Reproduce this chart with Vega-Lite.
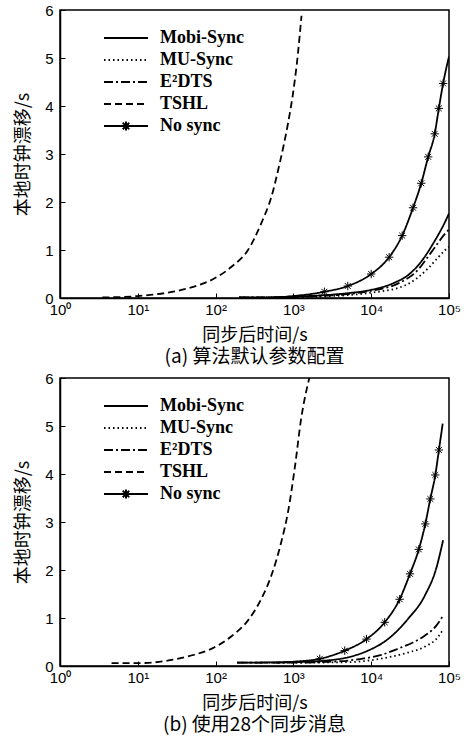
{
  "$schema": "https://vega.github.io/schema/vega-lite/v6.json",
  "padding": {"left": 13, "top": 2, "right": 4, "bottom": 0},
  "spacing": 2,
  "config": {
    "view": {"stroke": "black", "strokeWidth": 1.5},
    "axis": {
      "grid": false, "domainColor": "black", "domainWidth": 1.5,
      "tickColor": "black", "tickSize": -5, "tickWidth": 1,
      "labelColor": "black", "labelFont": "Liberation Sans", "labelFontSize": 15,
      "titleColor": "black", "titleFont": "Noto Sans CJK SC", "titleFontSize": 18, "titleFontWeight": "normal",
      "labelFlush": false
    },
    "title": {"font": "Noto Sans CJK SC", "fontSize": 19, "fontWeight": "normal", "color": "black", "orient": "bottom", "offset": 4, "anchor": "middle"}
  },
  "datasets": {
    "curves": [
      {"panel": "a", "series": "Mobi-Sync", "t": 200, "drift": 0.01},
      {"panel": "a", "series": "Mobi-Sync", "t": 500, "drift": 0.015},
      {"panel": "a", "series": "Mobi-Sync", "t": 1000, "drift": 0.03},
      {"panel": "a", "series": "Mobi-Sync", "t": 2000, "drift": 0.05},
      {"panel": "a", "series": "Mobi-Sync", "t": 5000, "drift": 0.1},
      {"panel": "a", "series": "Mobi-Sync", "t": 10000, "drift": 0.17},
      {"panel": "a", "series": "Mobi-Sync", "t": 20000, "drift": 0.32},
      {"panel": "a", "series": "Mobi-Sync", "t": 30000, "drift": 0.48},
      {"panel": "a", "series": "Mobi-Sync", "t": 44000, "drift": 0.76},
      {"panel": "a", "series": "Mobi-Sync", "t": 65000, "drift": 1.18},
      {"panel": "a", "series": "Mobi-Sync", "t": 85000, "drift": 1.52},
      {"panel": "a", "series": "Mobi-Sync", "t": 100000, "drift": 1.76},

      {"panel": "a", "series": "MU-Sync", "t": 200, "drift": 0.01},
      {"panel": "a", "series": "MU-Sync", "t": 1000, "drift": 0.02},
      {"panel": "a", "series": "MU-Sync", "t": 2000, "drift": 0.03},
      {"panel": "a", "series": "MU-Sync", "t": 5000, "drift": 0.06},
      {"panel": "a", "series": "MU-Sync", "t": 10000, "drift": 0.11},
      {"panel": "a", "series": "MU-Sync", "t": 27000, "drift": 0.26},
      {"panel": "a", "series": "MU-Sync", "t": 40000, "drift": 0.43},
      {"panel": "a", "series": "MU-Sync", "t": 54000, "drift": 0.62},
      {"panel": "a", "series": "MU-Sync", "t": 72000, "drift": 0.84},
      {"panel": "a", "series": "MU-Sync", "t": 92000, "drift": 1.02},
      {"panel": "a", "series": "MU-Sync", "t": 100000, "drift": 1.07},

      {"panel": "a", "series": "E²DTS", "t": 200, "drift": 0.01},
      {"panel": "a", "series": "E²DTS", "t": 1000, "drift": 0.02},
      {"panel": "a", "series": "E²DTS", "t": 2000, "drift": 0.04},
      {"panel": "a", "series": "E²DTS", "t": 5000, "drift": 0.08},
      {"panel": "a", "series": "E²DTS", "t": 10000, "drift": 0.15},
      {"panel": "a", "series": "E²DTS", "t": 22000, "drift": 0.3},
      {"panel": "a", "series": "E²DTS", "t": 38000, "drift": 0.55},
      {"panel": "a", "series": "E²DTS", "t": 59000, "drift": 0.95},
      {"panel": "a", "series": "E²DTS", "t": 88000, "drift": 1.33},
      {"panel": "a", "series": "E²DTS", "t": 100000, "drift": 1.43},

      {"panel": "a", "series": "TSHL", "t": 3.5, "drift": 0.01},
      {"panel": "a", "series": "TSHL", "t": 10, "drift": 0.04},
      {"panel": "a", "series": "TSHL", "t": 22, "drift": 0.1},
      {"panel": "a", "series": "TSHL", "t": 44, "drift": 0.2},
      {"panel": "a", "series": "TSHL", "t": 97, "drift": 0.41},
      {"panel": "a", "series": "TSHL", "t": 160, "drift": 0.65},
      {"panel": "a", "series": "TSHL", "t": 261, "drift": 1.0},
      {"panel": "a", "series": "TSHL", "t": 387, "drift": 1.56},
      {"panel": "a", "series": "TSHL", "t": 522, "drift": 2.11},
      {"panel": "a", "series": "TSHL", "t": 665, "drift": 2.8},
      {"panel": "a", "series": "TSHL", "t": 853, "drift": 3.64},
      {"panel": "a", "series": "TSHL", "t": 988, "drift": 4.26},
      {"panel": "a", "series": "TSHL", "t": 1145, "drift": 5.1},
      {"panel": "a", "series": "TSHL", "t": 1270, "drift": 5.88},

      {"panel": "a", "series": "No sync", "t": 600, "drift": 0.01},
      {"panel": "a", "series": "No sync", "t": 1000, "drift": 0.04},
      {"panel": "a", "series": "No sync", "t": 2500, "drift": 0.13},
      {"panel": "a", "series": "No sync", "t": 5000, "drift": 0.25},
      {"panel": "a", "series": "No sync", "t": 10000, "drift": 0.5},
      {"panel": "a", "series": "No sync", "t": 17000, "drift": 0.85},
      {"panel": "a", "series": "No sync", "t": 25000, "drift": 1.3},
      {"panel": "a", "series": "No sync", "t": 34500, "drift": 1.88},
      {"panel": "a", "series": "No sync", "t": 44000, "drift": 2.39},
      {"panel": "a", "series": "No sync", "t": 54000, "drift": 2.94},
      {"panel": "a", "series": "No sync", "t": 65500, "drift": 3.42},
      {"panel": "a", "series": "No sync", "t": 74000, "drift": 3.95},
      {"panel": "a", "series": "No sync", "t": 84000, "drift": 4.47},
      {"panel": "a", "series": "No sync", "t": 100000, "drift": 5.03},

      {"panel": "b", "series": "Mobi-Sync", "t": 190, "drift": 0.07},
      {"panel": "b", "series": "Mobi-Sync", "t": 1000, "drift": 0.08},
      {"panel": "b", "series": "Mobi-Sync", "t": 2500, "drift": 0.11},
      {"panel": "b", "series": "Mobi-Sync", "t": 5000, "drift": 0.18},
      {"panel": "b", "series": "Mobi-Sync", "t": 9100, "drift": 0.32},
      {"panel": "b", "series": "Mobi-Sync", "t": 16400, "drift": 0.56},
      {"panel": "b", "series": "Mobi-Sync", "t": 29700, "drift": 0.98},
      {"panel": "b", "series": "Mobi-Sync", "t": 49000, "drift": 1.47},
      {"panel": "b", "series": "Mobi-Sync", "t": 69000, "drift": 2.05},
      {"panel": "b", "series": "Mobi-Sync", "t": 84000, "drift": 2.62},

      {"panel": "b", "series": "MU-Sync", "t": 190, "drift": 0.07},
      {"panel": "b", "series": "MU-Sync", "t": 1000, "drift": 0.07},
      {"panel": "b", "series": "MU-Sync", "t": 5000, "drift": 0.08},
      {"panel": "b", "series": "MU-Sync", "t": 10000, "drift": 0.12},
      {"panel": "b", "series": "MU-Sync", "t": 16400, "drift": 0.18},
      {"panel": "b", "series": "MU-Sync", "t": 29700, "drift": 0.28},
      {"panel": "b", "series": "MU-Sync", "t": 48600, "drift": 0.4},
      {"panel": "b", "series": "MU-Sync", "t": 72000, "drift": 0.6},
      {"panel": "b", "series": "MU-Sync", "t": 84000, "drift": 0.76},

      {"panel": "b", "series": "E²DTS", "t": 190, "drift": 0.07},
      {"panel": "b", "series": "E²DTS", "t": 1000, "drift": 0.07},
      {"panel": "b", "series": "E²DTS", "t": 4000, "drift": 0.1},
      {"panel": "b", "series": "E²DTS", "t": 7500, "drift": 0.15},
      {"panel": "b", "series": "E²DTS", "t": 13500, "drift": 0.23},
      {"panel": "b", "series": "E²DTS", "t": 22000, "drift": 0.36},
      {"panel": "b", "series": "E²DTS", "t": 34400, "drift": 0.49},
      {"panel": "b", "series": "E²DTS", "t": 48600, "drift": 0.63},
      {"panel": "b", "series": "E²DTS", "t": 68700, "drift": 0.84},
      {"panel": "b", "series": "E²DTS", "t": 84000, "drift": 1.05},

      {"panel": "b", "series": "TSHL", "t": 4.6, "drift": 0.06},
      {"panel": "b", "series": "TSHL", "t": 10, "drift": 0.06},
      {"panel": "b", "series": "TSHL", "t": 22, "drift": 0.1},
      {"panel": "b", "series": "TSHL", "t": 44, "drift": 0.2},
      {"panel": "b", "series": "TSHL", "t": 97, "drift": 0.39},
      {"panel": "b", "series": "TSHL", "t": 160, "drift": 0.62},
      {"panel": "b", "series": "TSHL", "t": 261, "drift": 0.95},
      {"panel": "b", "series": "TSHL", "t": 387, "drift": 1.4},
      {"panel": "b", "series": "TSHL", "t": 522, "drift": 1.89},
      {"panel": "b", "series": "TSHL", "t": 700, "drift": 2.59},
      {"panel": "b", "series": "TSHL", "t": 853, "drift": 3.21},
      {"panel": "b", "series": "TSHL", "t": 1040, "drift": 4.12},
      {"panel": "b", "series": "TSHL", "t": 1260, "drift": 5.16},
      {"panel": "b", "series": "TSHL", "t": 1600, "drift": 6.0},

      {"panel": "b", "series": "No sync", "t": 600, "drift": 0.07},
      {"panel": "b", "series": "No sync", "t": 1000, "drift": 0.09},
      {"panel": "b", "series": "No sync", "t": 2180, "drift": 0.15},
      {"panel": "b", "series": "No sync", "t": 4570, "drift": 0.32},
      {"panel": "b", "series": "No sync", "t": 8700, "drift": 0.56},
      {"panel": "b", "series": "No sync", "t": 14900, "drift": 0.91},
      {"panel": "b", "series": "No sync", "t": 23200, "drift": 1.39},
      {"panel": "b", "series": "No sync", "t": 31500, "drift": 1.92},
      {"panel": "b", "series": "No sync", "t": 40900, "drift": 2.43},
      {"panel": "b", "series": "No sync", "t": 49600, "drift": 2.96},
      {"panel": "b", "series": "No sync", "t": 57500, "drift": 3.48},
      {"panel": "b", "series": "No sync", "t": 66700, "drift": 3.98},
      {"panel": "b", "series": "No sync", "t": 74200, "drift": 4.5},
      {"panel": "b", "series": "No sync", "t": 83000, "drift": 5.05}
    ],
    "markers": [
      {"panel": "a", "t": 2500, "drift": 0.13},
      {"panel": "a", "t": 5000, "drift": 0.25},
      {"panel": "a", "t": 10000, "drift": 0.5},
      {"panel": "a", "t": 17000, "drift": 0.85},
      {"panel": "a", "t": 25000, "drift": 1.3},
      {"panel": "a", "t": 34500, "drift": 1.88},
      {"panel": "a", "t": 44000, "drift": 2.39},
      {"panel": "a", "t": 54000, "drift": 2.94},
      {"panel": "a", "t": 65500, "drift": 3.42},
      {"panel": "a", "t": 74000, "drift": 3.95},
      {"panel": "a", "t": 84000, "drift": 4.47},
      {"panel": "b", "t": 2180, "drift": 0.15},
      {"panel": "b", "t": 4570, "drift": 0.32},
      {"panel": "b", "t": 8700, "drift": 0.56},
      {"panel": "b", "t": 14900, "drift": 0.91},
      {"panel": "b", "t": 23200, "drift": 1.39},
      {"panel": "b", "t": 31500, "drift": 1.92},
      {"panel": "b", "t": 40900, "drift": 2.43},
      {"panel": "b", "t": 49600, "drift": 2.96},
      {"panel": "b", "t": 57500, "drift": 3.48},
      {"panel": "b", "t": 66700, "drift": 3.98},
      {"panel": "b", "t": 74200, "drift": 4.5}
    ]
  },
  "vconcat": [
    {
      "width": 389, "height": 288,
      "title": {"text": "(a) 算法默认参数配置"},
      "encoding": {
        "x": {"field": "t", "type": "quantitative", "scale": {"type": "log", "domain": [1, 100000]},
          "axis": {"title": "同步后时间/s", "values": [1, 10, 100, 1000, 10000, 100000], "labelExpr": "'10' + ['⁰','¹','²','³','⁴','⁵'][round(log(datum.value)/LN10)]", "labelPadding": 9, "titlePadding": 9}},
        "y": {"field": "drift", "type": "quantitative", "scale": {"domain": [0, 6]},
          "axis": {"title": "本地时钟漂移/s", "values": [0, 1, 2, 3, 4, 5, 6], "labelPadding": 12, "titlePadding": 12}}
      },
      "layer": [
        {
          "data": {"name": "curves"},
          "transform": [{"filter": "datum.panel === 'a'"}],
          "mark": {"type": "line", "color": "black", "strokeWidth": 1.8, "clip": true, "interpolate": "monotone"},
          "encoding": {
            "strokeDash": {"field": "series", "type": "nominal",
              "scale": {"domain": ["Mobi-Sync", "MU-Sync", "E²DTS", "TSHL", "No sync"], "range": [[1, 0], [1.5, 3], [9, 3, 2, 3], [7, 4], [1, 0]]},
              "legend": {"title": null, "orient": "none", "legendX": 57, "legendY": 19, "padding": 0,
                "symbolType": "M-4.4,0L4.4,0", "symbolSize": 100, "symbolStrokeWidth": 2, "symbolStrokeColor": "black",
                "labelFont": "Liberation Serif", "labelFontWeight": "bold", "labelFontSize": 18, "labelColor": "black",
                "labelOffset": 25, "rowPadding": 4,
                "encode": {"symbols": {"update": {"shape": {"signal": "datum.value === 'No sync' ? 'M-4.4,0L4.4,0M0,-0.9L0,0.9M-0.65,-0.65L0.65,0.65M-0.65,0.65L0.65,-0.65' : 'M-4.4,0L4.4,0'"}}}}}
            }
          }
        },
        {
          "data": {"name": "markers"},
          "transform": [{"filter": "datum.panel === 'a'"}],
          "mark": {"type": "point", "shape": "M-1,0L1,0M0,-1L0,1M-0.7,-0.7L0.7,0.7M-0.7,0.7L0.7,-0.7", "size": 70, "stroke": "black", "strokeWidth": 1, "filled": false, "opacity": 1}
        }
      ]
    },
    {
      "width": 389, "height": 288,
      "title": {"text": "(b) 使用28个同步消息"},
      "encoding": {
        "x": {"field": "t", "type": "quantitative", "scale": {"type": "log", "domain": [1, 100000]},
          "axis": {"title": "同步后时间/s", "values": [1, 10, 100, 1000, 10000, 100000], "labelExpr": "'10' + ['⁰','¹','²','³','⁴','⁵'][round(log(datum.value)/LN10)]", "labelPadding": 9, "titlePadding": 9}},
        "y": {"field": "drift", "type": "quantitative", "scale": {"domain": [0, 6]},
          "axis": {"title": "本地时钟漂移/s", "values": [0, 1, 2, 3, 4, 5, 6], "labelPadding": 12, "titlePadding": 12}}
      },
      "layer": [
        {
          "data": {"name": "curves"},
          "transform": [{"filter": "datum.panel === 'b'"}],
          "mark": {"type": "line", "color": "black", "strokeWidth": 1.8, "clip": true, "interpolate": "monotone"},
          "encoding": {
            "strokeDash": {"field": "series", "type": "nominal",
              "scale": {"domain": ["Mobi-Sync", "MU-Sync", "E²DTS", "TSHL", "No sync"], "range": [[1, 0], [1.5, 3], [9, 3, 2, 3], [7, 4], [1, 0]]},
              "legend": {"title": null, "orient": "none", "legendX": 57, "legendY": 19, "padding": 0,
                "symbolType": "M-4.4,0L4.4,0", "symbolSize": 100, "symbolStrokeWidth": 2, "symbolStrokeColor": "black",
                "labelFont": "Liberation Serif", "labelFontWeight": "bold", "labelFontSize": 18, "labelColor": "black",
                "labelOffset": 25, "rowPadding": 4,
                "encode": {"symbols": {"update": {"shape": {"signal": "datum.value === 'No sync' ? 'M-4.4,0L4.4,0M0,-0.9L0,0.9M-0.65,-0.65L0.65,0.65M-0.65,0.65L0.65,-0.65' : 'M-4.4,0L4.4,0'"}}}}}
            }
          }
        },
        {
          "data": {"name": "markers"},
          "transform": [{"filter": "datum.panel === 'b'"}],
          "mark": {"type": "point", "shape": "M-1,0L1,0M0,-1L0,1M-0.7,-0.7L0.7,0.7M-0.7,0.7L0.7,-0.7", "size": 70, "stroke": "black", "strokeWidth": 1, "filled": false, "opacity": 1}
        }
      ]
    }
  ],
  "resolve": {"scale": {"strokeDash": "independent"}, "legend": {"strokeDash": "independent"}}
}
